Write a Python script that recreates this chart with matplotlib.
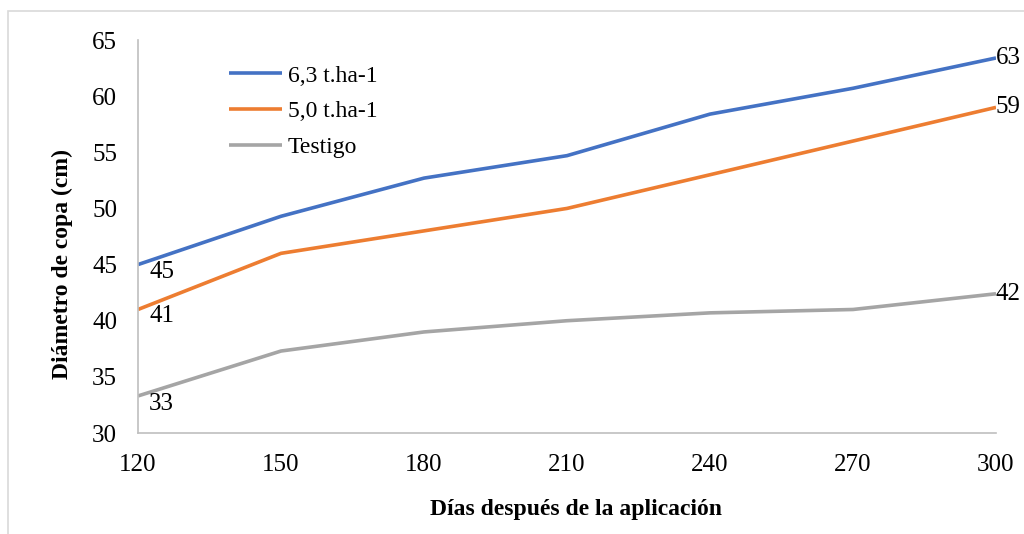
import matplotlib.pyplot as plt
import matplotlib.patches as mpatches

dias = [120, 150, 180, 210, 240, 270, 300]
dosis_63 = [45.0, 49.3, 52.7, 54.7, 58.4, 60.7, 63.4]
dosis_50 = [41.0, 46.0, 48.0, 50.0, 53.0, 56.0, 59.0]
testigo = [33.3, 37.3, 39.0, 40.0, 40.7, 41.0, 42.4]
series_names = ["6,3 t.ha-1", "5,0 t.ha-1", "Testigo"]
colors = ["#4472C4", "#ED7D31", "#A5A5A5"]

plt.rcParams['font.family'] = ['Liberation Serif', 'DejaVu Serif']

fig = plt.figure(figsize=(10.24, 5.34), dpi=100)
ax = fig.add_axes([138/1024, 1 - 433/534, (996-138)/1024, (433-40)/534])

# outer chart frame (cut off at right/bottom like the screenshot)
fig.patches.append(mpatches.Rectangle((8/1024, -0.05), 1.1, 1 - 11/534 + 0.05,
                                      transform=fig.transFigure, fill=False,
                                      edgecolor="#D9D9D9", linewidth=1.2))

for y, name, c in zip([dosis_63, dosis_50, testigo], series_names, colors):
    ax.plot(dias, y, color=c, linewidth=2.6, label=name, solid_capstyle='butt')

# data labels at the ends
fs = 18
ax.annotate("45", (dias[0], dosis_63[0]), xytext=(8, -5), textcoords='offset points',
            ha='left', va='center', fontsize=fs)
ax.annotate("41", (dias[0], dosis_50[0]), xytext=(8, -5), textcoords='offset points',
            ha='left', va='center', fontsize=fs)
ax.annotate("33", (dias[0], testigo[0]), xytext=(8, -6), textcoords='offset points',
            ha='left', va='center', fontsize=fs)
ax.annotate("63", (dias[-1], dosis_63[-1]), xytext=(0, 0), textcoords='offset points',
            ha='left', va='center', fontsize=fs, annotation_clip=False)
ax.annotate("59", (dias[-1], dosis_50[-1]), xytext=(0, 0), textcoords='offset points',
            ha='left', va='center', fontsize=fs, annotation_clip=False)
ax.annotate("42", (dias[-1], testigo[-1]), xytext=(0, 0), textcoords='offset points',
            ha='left', va='center', fontsize=fs, annotation_clip=False)

ax.set_xlim(120, 300)
ax.set_ylim(30, 65)
ax.set_xticks(dias)
ax.set_yticks(range(30, 66, 5))
ax.tick_params(length=0, labelsize=18)
ax.tick_params(axis='x', pad=15)
ax.tick_params(axis='y', pad=15)
for s in ['top', 'right']:
    ax.spines[s].set_visible(False)
for s in ['left', 'bottom']:
    ax.spines[s].set_color("#BFBFBF")
    ax.spines[s].set_linewidth(1.2)

ax.set_xlabel("Días después de la aplicación", fontsize=17, fontweight='bold', labelpad=17)
ax.set_ylabel("Diámetro de copa (cm)", fontsize=17, fontweight='bold', labelpad=14)
ax.xaxis.label.set_x(0.51)
ax.yaxis.label.set_y(0.43)

ax.legend(loc='upper left', bbox_to_anchor=(0.081, 0.99), frameon=False, fontsize=17,
          handlelength=2.25, handletextpad=0.25, labelspacing=0.6)

fig.savefig("out.png", dpi=100)
